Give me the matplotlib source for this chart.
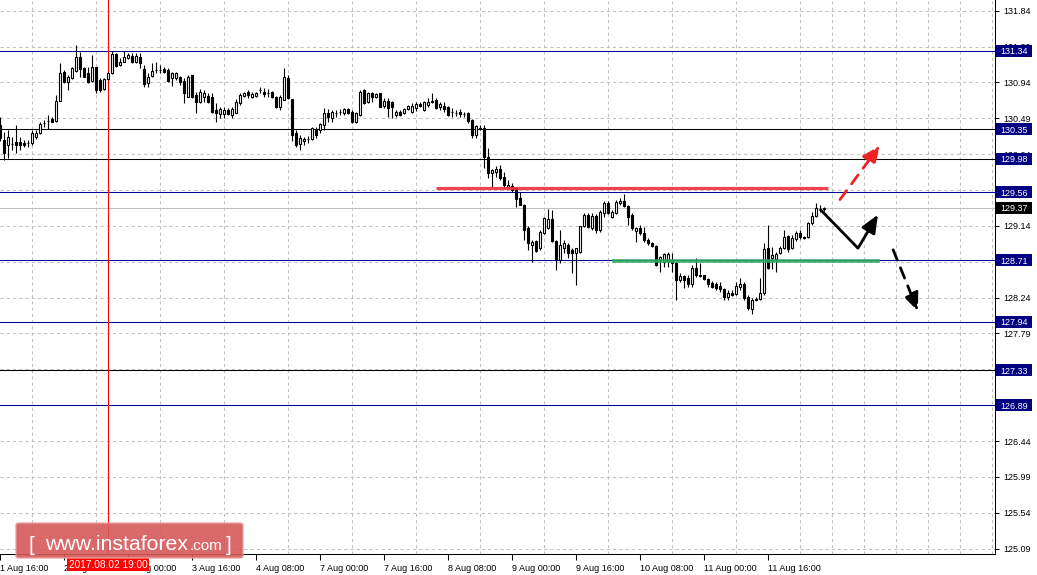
import numpy as np
import matplotlib
matplotlib.use("Agg")
import matplotlib.pyplot as plt
import matplotlib.transforms as mtransforms
from matplotlib.patches import Rectangle, FancyBboxPatch

plt.rcParams['font.family'] = ['Liberation Sans', 'DejaVu Sans']

# === hourly candles, bar -1 .. 205 ===
opens = [130.41,
    130.22, 130.15, 130.17, 130.19, 130.19, 130.18, 130.18, 130.18, 130.26, 130.31,
    130.43, 130.46, 130.48, 130.46, 130.71, 131.07, 130.95, 131.00, 131.08, 131.26,
    131.12, 131.06, 130.96, 131.13, 130.97, 130.86, 130.98, 131.06, 131.30, 131.16,
    131.20, 131.25, 131.27, 131.20, 131.26, 131.11, 130.93, 131.02, 131.10, 131.10,
    131.11, 131.10, 131.00, 131.00, 131.01, 130.96, 130.76, 131.03, 130.78, 130.69,
    130.76, 130.77, 130.76, 130.59, 130.54, 130.54, 130.59, 130.53, 130.56, 130.68,
    130.77, 130.82, 130.76, 130.77, 130.84, 130.82, 130.81, 130.82, 130.76, 130.63,
    130.72, 131.00, 130.73, 130.31, 130.17, 130.20, 130.23, 130.23, 130.36, 130.34,
    130.41, 130.56, 130.49, 130.56, 130.57, 130.56, 130.61, 130.57, 130.44, 130.53,
    130.84, 130.69, 130.81, 130.76, 130.81, 130.64, 130.71, 130.69, 130.53, 130.57,
    130.56, 130.61, 130.57, 130.62, 130.67, 130.59, 130.66, 130.71, 130.72, 130.63,
    130.64, 130.63, 130.57, 130.56, 130.57, 130.54, 130.56, 130.47, 130.28, 130.37,
    130.37, 130.00, 129.80, 129.82, 129.85, 129.75, 129.63, 129.64, 129.62, 129.49,
    129.40, 129.11, 128.90, 128.95, 128.86, 129.05, 129.11, 129.23, 128.95, 128.71,
    128.86, 128.90, 128.84, 128.80, 128.81, 129.14, 129.28, 129.11, 129.26, 129.09,
    129.30, 129.43, 129.25, 129.30, 129.43, 129.45, 129.39, 129.28, 129.08, 129.11,
    129.05, 128.96, 128.93, 128.89, 128.71, 128.69, 128.70, 128.70, 128.67, 128.46,
    128.51, 128.49, 128.41, 128.61, 128.52, 128.52, 128.47, 128.42, 128.41, 128.39,
    128.35, 128.25, 128.30, 128.29, 128.37, 128.41, 128.25, 128.10, 128.21, 128.22,
    128.30, 128.86, 128.74, 128.72, 128.80, 128.86, 129.01, 128.86, 128.98, 129.05,
    129.00, 129.00, 129.18, 129.26, 129.35, 129.35]
highs = [130.51,
    130.32, 130.34, 130.26, 130.41, 130.26, 130.22, 130.22, 130.34, 130.34, 130.44,
    130.47, 130.53, 130.51, 130.78, 131.18, 131.10, 131.03, 131.13, 131.41, 131.32,
    131.13, 131.13, 131.28, 131.13, 131.00, 131.00, 131.07, 131.33, 131.31, 131.25,
    131.33, 131.31, 131.31, 131.31, 131.31, 131.16, 131.06, 131.18, 131.20, 131.16,
    131.13, 131.12, 131.07, 131.07, 131.02, 131.00, 131.03, 131.03, 130.82, 130.86,
    130.84, 130.81, 130.81, 130.68, 130.63, 130.63, 130.62, 130.63, 130.73, 130.81,
    130.82, 130.84, 130.82, 130.82, 130.88, 130.87, 130.86, 130.83, 130.77, 130.78,
    131.12, 131.03, 130.73, 130.34, 130.28, 130.26, 130.27, 130.38, 130.38, 130.43,
    130.62, 130.61, 130.59, 130.59, 130.61, 130.62, 130.62, 130.59, 130.57, 130.84,
    130.86, 130.82, 130.82, 130.81, 130.81, 130.74, 130.74, 130.71, 130.59, 130.59,
    130.62, 130.66, 130.68, 130.69, 130.69, 130.71, 130.74, 130.81, 130.74, 130.69,
    130.69, 130.64, 130.62, 130.59, 130.61, 130.57, 130.57, 130.48, 130.41, 130.41,
    130.41, 130.12, 129.85, 129.89, 129.90, 129.82, 129.72, 129.68, 129.63, 129.56,
    129.41, 129.14, 128.96, 128.96, 129.09, 129.25, 129.35, 129.34, 128.96, 129.09,
    128.96, 128.93, 128.86, 128.86, 129.14, 129.30, 129.30, 129.30, 129.29, 129.34,
    129.45, 129.45, 129.34, 129.46, 129.49, 129.54, 129.40, 129.30, 129.13, 129.15,
    129.13, 128.99, 128.94, 128.90, 128.76, 128.80, 128.81, 128.80, 128.69, 128.55,
    128.52, 128.52, 128.65, 128.74, 128.67, 128.52, 128.49, 128.45, 128.44, 128.44,
    128.36, 128.34, 128.34, 128.44, 128.49, 128.44, 128.27, 128.23, 128.25, 128.49,
    128.93, 129.15, 128.87, 128.81, 128.89, 129.09, 129.03, 129.03, 129.08, 129.09,
    129.01, 129.19, 129.31, 129.43, 129.40, 129.38]
lows = [130.20,
    129.97, 129.99, 130.09, 130.05, 130.09, 130.13, 130.13, 130.15, 130.23, 130.29,
    130.38, 130.36, 130.44, 130.44, 130.71, 130.93, 130.84, 130.98, 131.07, 131.01,
    131.01, 130.93, 130.95, 130.81, 130.82, 130.84, 130.97, 131.05, 131.13, 131.15,
    131.20, 131.23, 131.18, 131.18, 131.12, 130.88, 130.88, 131.01, 131.06, 131.06,
    131.06, 130.95, 130.90, 130.97, 130.91, 130.68, 130.76, 130.74, 130.56, 130.68,
    130.69, 130.68, 130.56, 130.44, 130.49, 130.49, 130.53, 130.49, 130.56, 130.66,
    130.76, 130.74, 130.74, 130.76, 130.81, 130.76, 130.76, 130.74, 130.62, 130.59,
    130.72, 130.73, 130.20, 130.13, 130.09, 130.15, 130.18, 130.22, 130.24, 130.31,
    130.34, 130.44, 130.44, 130.51, 130.53, 130.53, 130.54, 130.43, 130.43, 130.52,
    130.67, 130.68, 130.69, 130.74, 130.63, 130.62, 130.51, 130.49, 130.51, 130.52,
    130.54, 130.59, 130.56, 130.58, 130.63, 130.58, 130.63, 130.68, 130.61, 130.59,
    130.57, 130.52, 130.51, 130.52, 130.51, 130.51, 130.43, 130.24, 130.24, 130.34,
    129.87, 129.74, 129.63, 129.75, 129.72, 129.63, 129.62, 129.56, 129.38, 129.40,
    128.96, 128.84, 128.69, 128.81, 128.84, 129.04, 129.10, 128.94, 128.59, 128.67,
    128.80, 128.74, 128.55, 128.40, 128.80, 129.13, 129.11, 129.09, 129.05, 129.06,
    129.25, 129.29, 129.24, 129.29, 129.40, 129.38, 129.15, 129.09, 128.94, 129.03,
    128.94, 128.90, 128.87, 128.64, 128.56, 128.62, 128.62, 128.56, 128.21, 128.44,
    128.36, 128.37, 128.37, 128.50, 128.50, 128.46, 128.37, 128.36, 128.34, 128.31,
    128.21, 128.21, 128.26, 128.27, 128.34, 128.21, 128.08, 128.03, 128.20, 128.21,
    128.27, 128.60, 128.60, 128.56, 128.79, 128.85, 128.81, 128.85, 128.95, 128.98,
    128.98, 128.99, 129.15, 129.25, 129.31, 129.33]
closes = [130.24,
    130.05, 130.26, 130.17, 130.15, 130.15, 130.15, 130.18, 130.31, 130.31, 130.42,
    130.43, 130.46, 130.44, 130.71, 131.06, 130.95, 131.01, 131.12, 131.26, 131.11,
    131.01, 130.95, 131.13, 130.84, 130.84, 130.98, 131.06, 131.30, 131.15, 131.20,
    131.26, 131.28, 131.20, 131.27, 131.18, 130.92, 131.01, 131.08, 131.09, 131.10,
    131.07, 130.96, 131.06, 131.06, 130.95, 130.81, 131.01, 130.76, 130.69, 130.82,
    130.81, 130.69, 130.57, 130.56, 130.61, 130.59, 130.54, 130.61, 130.69, 130.78,
    130.81, 130.78, 130.79, 130.81, 130.84, 130.79, 130.81, 130.76, 130.63, 130.76,
    131.01, 130.74, 130.28, 130.15, 130.24, 130.23, 130.23, 130.37, 130.28, 130.42,
    130.56, 130.51, 130.57, 130.56, 130.57, 130.61, 130.56, 130.44, 130.56, 130.82,
    130.68, 130.81, 130.76, 130.79, 130.63, 130.71, 130.62, 130.63, 130.57, 130.53,
    130.61, 130.64, 130.64, 130.67, 130.64, 130.69, 130.69, 130.70, 130.62, 130.67,
    130.61, 130.53, 130.57, 130.56, 130.54, 130.54, 130.46, 130.28, 130.39, 130.36,
    130.00, 129.80, 129.84, 129.85, 129.74, 129.65, 129.65, 129.59, 129.48, 129.40,
    129.09, 128.93, 128.94, 128.82, 129.06, 129.24, 129.23, 128.95, 128.71, 128.90,
    128.93, 128.80, 128.80, 128.86, 129.14, 129.28, 129.13, 129.26, 129.09, 129.31,
    129.43, 129.30, 129.31, 129.44, 129.45, 129.39, 129.25, 129.11, 129.11, 129.05,
    128.96, 128.93, 128.89, 128.65, 128.75, 128.79, 128.79, 128.67, 128.46, 128.51,
    128.46, 128.41, 128.61, 128.52, 128.51, 128.47, 128.41, 128.37, 128.36, 128.35,
    128.25, 128.30, 128.27, 128.39, 128.41, 128.23, 128.11, 128.21, 128.22, 128.30,
    128.85, 128.61, 128.77, 128.79, 128.86, 129.00, 128.85, 128.99, 129.05, 129.00,
    128.99, 129.18, 129.26, 129.36, 129.35, 129.37]
bars = np.arange(-1, len(opens) - 1)

price_ticks = [131.84, 131.39, 130.94, 130.49, 130.04, 129.59, 129.14, 128.69,
               128.24, 127.79, 127.34, 126.89, 126.44, 125.99, 125.54, 125.09]
# tick labels fully hidden behind the line labels are left blank
hidden_ticks = [129.59, 128.69, 127.34, 126.89]
time_labels = ["1 Aug 16:00", "2 Aug 08:00", "3 Aug 00:00", "3 Aug 16:00",
               "4 Aug 08:00", "7 Aug 00:00", "7 Aug 16:00", "8 Aug 08:00",
               "9 Aug 00:00", "9 Aug 16:00", "10 Aug 08:00", "11 Aug 00:00",
               "11 Aug 16:00"]
level_lines = [131.34, 130.35, 129.98, 129.56, 128.71, 127.94, 127.33, 126.89]
level_colors = ['#0000a0', '#000000', '#000000', '#0000a0', '#0000a0', '#0000a0',
                '#000000', '#0000a0']
bid_price = 129.37
cursor_bar = 26
cursor_text = "2017.08.02 19:00"

# analyst marks: (bar, price)
resistance = [(108, 129.62), (206, 129.62)]
support = [(152, 128.70), (219, 128.70)]
main_path = [(204.1, 129.35), (213.6, 128.86), (218.6, 129.28)]
break_up = [(209.1, 129.47), (219.1, 130.15)]
break_down = [(222.4, 128.84), (228.6, 128.07)]

# === figure ===
W, H = 1037, 575
fig = plt.figure(figsize=(W / 100, H / 100), dpi=100)
ax = fig.add_axes([0, 21 / H, 995 / W, 554 / H])
ax.set_xlim(-0.875, 247.875)
ax.set_ylim(125.023, 131.974)

# grid
ax.set_yticks(price_ticks)
ax.set_yticklabels(["" if v in hidden_ticks else f"{v:.2f}" for v in price_ticks])
ax.set_xticks(np.arange(-1, -1 + 16 * len(time_labels), 16))
ax.set_xticklabels(time_labels)
ax.set_xticks(np.arange(-1, 248, 8), minor=True)
ax.xaxis.grid(True, which='minor', color='#c0c0c0', linestyle=(0, (3, 3)), linewidth=0.75)
ax.yaxis.grid(True, which='major', color='#c0c0c0', linestyle=(0, (3, 3)), linewidth=0.75)
ax.set_axisbelow(True)

ax.yaxis.tick_right()
ax.tick_params(axis='y', direction='out', length=3, width=0.75, labelsize=6.5, pad=3)
ax.tick_params(axis='x', which='major', direction='out', length=4, width=0.75, labelsize=6.5, pad=3)
ax.tick_params(axis='x', which='minor', length=0)
for lbl in ax.get_xticklabels():
    lbl.set_ha('left')
for s in ['left', 'top']:
    ax.spines[s].set_visible(False)
for s in ['bottom', 'right']:
    ax.spines[s].set_linewidth(0.75)
    ax.spines[s].set_color('black')

# level lines
for v, col in zip(level_lines, level_colors):
    ax.axhline(v, color=col, linewidth=0.75, zorder=1.5)
ax.axhline(bid_price, color='#c0c0c0', linewidth=0.75, zorder=1.5)
ax.axvline(cursor_bar, color='#ff0000', linewidth=0.75, zorder=1.5)

# candles
o = np.array(opens)
c = np.array(closes)
faces = ['white' if cc >= oo else 'black' for oo, cc in zip(o, c)]
ax.vlines(bars, lows, highs, color='black', linewidth=0.8, zorder=3)
ax.bar(bars, c - o, bottom=o, width=0.5, color=faces, edgecolor='black',
       linewidth=0.8, zorder=4)

# resistance / support
ax.plot(*zip(*resistance), color='#ec2f3b', linewidth=2.3, alpha=0.9,
        solid_capstyle='butt', zorder=5)
ax.plot(*zip(*support), color='#2eaa62', linewidth=2.6, alpha=0.9,
        solid_capstyle='butt', zorder=5)

# arrows
ax.plot(*zip(*main_path[:2]), color='black', linewidth=2, solid_capstyle='butt', zorder=6)
ax.annotate('', xy=main_path[2], xytext=main_path[1],
            arrowprops=dict(arrowstyle='-|>,head_length=0.9,head_width=0.38',
                            color='black', lw=2, shrinkA=0, shrinkB=0,
                            mutation_scale=12), zorder=6)
ax.annotate('', xy=break_up[1], xytext=break_up[0],
            arrowprops=dict(arrowstyle='-|>,head_length=0.9,head_width=0.38',
                            color='#ee2222', lw=2, linestyle=(0, (4, 3)),
                            shrinkA=0, shrinkB=0, mutation_scale=12), zorder=6)
ax.annotate('', xy=break_down[1], xytext=break_down[0],
            arrowprops=dict(arrowstyle='-|>,head_length=0.9,head_width=0.38',
                            color='black', lw=2, linestyle=(0, (4, 3)),
                            shrinkA=0, shrinkB=0, mutation_scale=12), zorder=6)

# price labels on the right axis
ytr = ax.get_yaxis_transform()
box_w = 36 / 995
box_h = 12 / 79.7
for v, fc in [(p, '#000080') for p in level_lines] + [(bid_price, '#000000')]:
    ax.add_patch(Rectangle((1 + 1 / 995, v - box_h / 2), box_w, box_h, transform=ytr,
                           facecolor=fc, edgecolor='none', clip_on=False, zorder=7))
    ax.text(1 + 5 / 995, v, f"{v:.2f}", transform=ytr, ha='left', va='center_baseline',
            color='white', fontsize=6.5, clip_on=False, zorder=8)

# cursor time label
xtr = mtransforms.blended_transform_factory(ax.transData, ax.transAxes)
ax.text(cursor_bar, -0.019, cursor_text, transform=xtr, ha='center', va='center',
        color='white', fontsize=7.3, clip_on=False, zorder=9,
        bbox=dict(boxstyle='square,pad=0.15', facecolor='#ff0000', edgecolor='none'))

# watermark
fig.patches.append(FancyBboxPatch((16 / W, 1 - 558 / H), 227 / W, 35 / H,
                                  boxstyle='round,pad=0,rounding_size=0.003',
                                  transform=fig.transFigure, facecolor='#d65a5a',
                                  edgecolor='#eaa0a0', linewidth=1, alpha=0.9, zorder=5))
fig.text(28 / W, 1 - 551 / H, '[', color='white', fontsize=15, va='baseline', zorder=6)
fig.text(45 / W, 1 - 550 / H, 'www.instaforex', color='white', fontsize=15.3,
         va='baseline', zorder=6)
fig.text(190 / W, 1 - 550 / H, '.com', color='white', fontsize=11, va='baseline', zorder=6)
fig.text(226 / W, 1 - 551 / H, ']', color='white', fontsize=15, va='baseline', zorder=6)

fig.savefig('out.png', dpi=100)
